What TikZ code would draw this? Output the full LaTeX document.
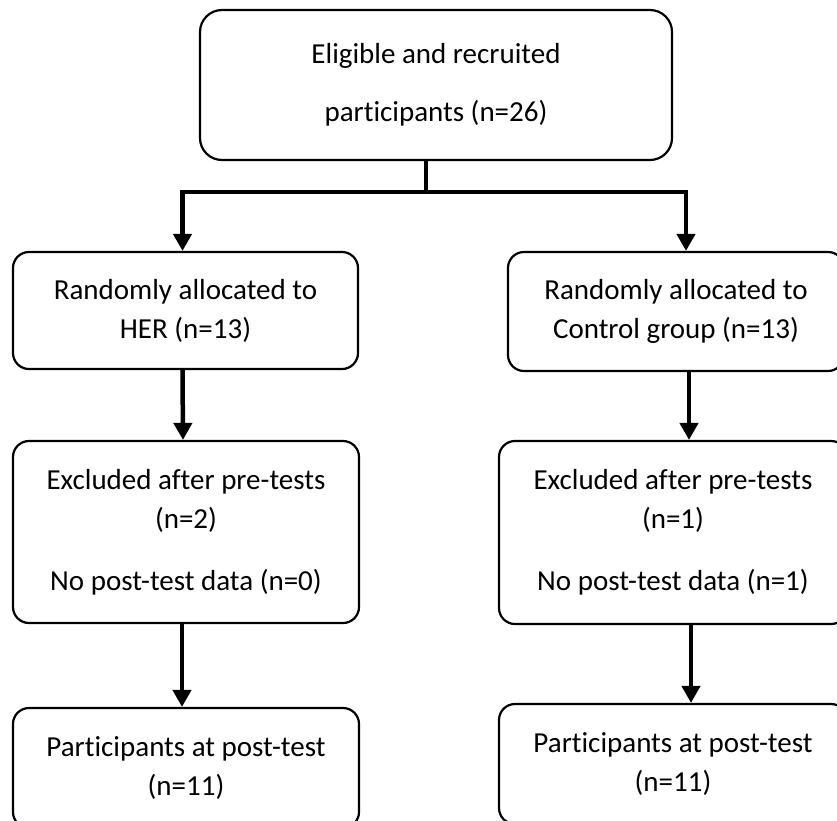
\documentclass[tikz,border=0pt]{standalone}
\usepackage{fontspec}
\setmainfont[Ligatures={NoCommon}]{Carlito}
\usetikzlibrary{arrows.meta, positioning}

\begin{document}
\begin{tikzpicture}[x=1pt, y=-1pt, font=\fontsize{29}{39}\selectfont,
    box/.style={draw, line width=2.2pt, rounded corners=16pt, align=center, inner sep=0pt},
    flow/.style={-{Triangle[length=17pt, width=18pt]}, line width=4.5pt}]
  \useasboundingbox (0,0) rectangle (837,820);
  \clip (0,0) rectangle (837,820);

  % Recruitment
  \node[box, rounded corners=22pt, minimum width=472pt, minimum height=150pt] (recruited) at (436,85)
    {Eligible and recruited\\[19pt] participants (n=26)};

  % Allocation
  \node[box, minimum width=345pt, minimum height=117pt] (her) at (185.5,310.5)
    {Randomly allocated to\\ HER (n=13)};
  \node[box, minimum width=336pt, minimum height=119pt] (ctrl) at (676,311.5)
    {Randomly allocated to\\ Control group (n=13)};

  % Exclusions
  \node[box, minimum width=346pt, minimum height=182pt] (exher) at (186,532)
    {Excluded after pre-tests\\ (n=2)\\[23pt] No post-test data (n=0)};
  \node[box, minimum width=348pt, minimum height=183pt] (exctrl) at (673,532.5)
    {Excluded after pre-tests\\ (n=1)\\[23pt] No post-test data (n=1)};

  % Post-test
  \node[box, minimum width=346pt, minimum height=120pt] (posther) at (186,768)
    {Participants at post-test\\ (n=11)};
  \node[box, minimum width=348pt, minimum height=120pt] (postctrl) at (673,764)
    {Participants at post-test\\ (n=11)};

  % Connectors
  \coordinate (split) at (426,192);
  \draw[line width=4pt] (split |- recruited.south) -- (split);
  \draw[flow] (split) -| ([xshift=-3pt]her.north);
  \draw[flow] (split) -| ([xshift=10pt]ctrl.north);
  \draw[flow] ([xshift=-3pt]her.south) -- ([xshift=-3pt]exher.north);
  \draw[flow] ([xshift=13pt]ctrl.south) -- ([xshift=16pt]exctrl.north);
  \draw[flow] ([xshift=-4pt]exher.south) -- ([xshift=-4pt]posther.north);
  \draw[flow] ([xshift=18pt]exctrl.south) -- ([xshift=18pt]postctrl.north);
\end{tikzpicture}
\end{document}
